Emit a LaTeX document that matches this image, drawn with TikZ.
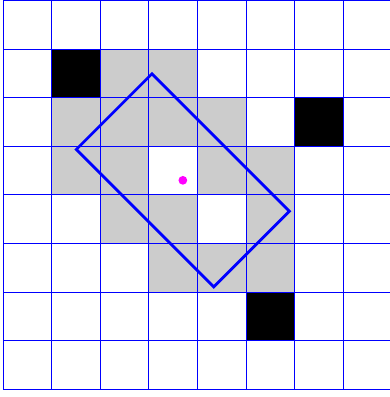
\documentclass[tikz,border=0pt]{standalone}
\usepackage{xcolor}
\usepackage{tikz}
\usetikzlibrary{positioning}
\definecolor{cellgray}{RGB}{204,204,204}
\definecolor{centremagenta}{RGB}{255,0,255}
\definecolor{gridblue}{RGB}{0,0,255}

\begin{document}
\begin{tikzpicture}[
  gridline/.style={gridblue,line width=0.55pt},
  occupied/.style={fill=black},
  covered/.style={fill=cellgray},
  footprint/.style={draw=gridblue,line width=1.6pt,minimum width=4cm,minimum height=2.2cm,rotate=-45,inner sep=0pt},
  centre/.style={circle,fill=centremagenta,inner sep=0pt,minimum size=1.8mm}]
  \useasboundingbox (-0.062,-0.158) rectangle (7.942,8.01);
  % cells touched by the footprint
  \foreach \x/\y in {2/6,3/6,1/5,2/5,3/5,4/5,1/4,2/4,4/4,5/4,2/3,3/3,5/3,3/2,4/2,5/2}{
    \fill[covered] (\x,\y) rectangle ++(1,1);
  }
  % obstacles
  \foreach \x/\y in {1/6,6/5,5/1}{
    \fill[occupied] (\x,\y) rectangle ++(1,1);
  }
  \draw[gridline] (0,0) grid (8,8);
  \node[footprint] (robot) at (3.7,4.3) {};
  \node[centre] (robotc) at (robot.center) {};
\end{tikzpicture}
\end{document}
